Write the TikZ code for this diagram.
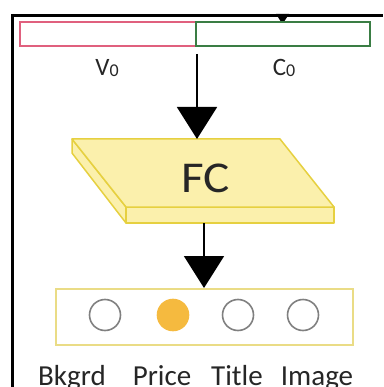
\documentclass[tikz,border=0pt]{standalone}
\usepackage{fontspec}
\setmainfont{Carlito}
\usetikzlibrary{arrows.meta}
\definecolor{pinkb}{HTML}{E0607E}
\definecolor{greenb}{HTML}{3A7D44}
\definecolor{fcfill}{HTML}{FBF0AC}
\definecolor{fcline}{HTML}{E6D040}
\definecolor{boxline}{HTML}{EADC86}
\definecolor{pricefill}{HTML}{F5BA3F}
\definecolor{circline}{HTML}{808080}
\definecolor{txt}{HTML}{262626}
\tikzset{
  barbox/.style={draw, line width=1.8pt, minimum height=24pt, inner sep=0pt, anchor=north west},
  arr/.style={line width=1.8pt, -{Triangle[width=40pt,length=32pt]}},
  slab/.style={draw=fcline, fill=fcfill, line width=1.5pt, line join=round},
  radio/.style={circle, draw=circline, line width=1.6pt, minimum size=31pt, inner sep=0pt},
  lab/.style={font=\fontsize{29}{31}\selectfont, text=txt, anchor=base, inner sep=0pt},
  barlab/.style={font=\fontsize{25}{27}\selectfont, text=txt, inner sep=0pt}
}
\begin{document}
\begin{tikzpicture}[x=1pt,y=-1pt]
\useasboundingbox (0,0) rectangle (383,387);
% frame
\draw[line width=3pt] (11,15.5) -- (383,15.5);
\draw[line width=3pt] (12.5,14) -- (12.5,387);
\fill (276,14) -- (289,14) -- (284.5,21) -- (280.5,21) -- cycle;
% bar
\node[barbox, draw=pinkb, minimum width=176pt] (vbar) at (19,21) {};
\node[barbox, draw=greenb, minimum width=174pt] (cbar) at (195,21) {};
\node[barlab] (vlab) at (107,68) {V\raisebox{-1.5pt}{\fontsize{18}{18}\selectfont 0}};
\node[barlab] (clab) at (284,68) {C\raisebox{-1.5pt}{\fontsize{18}{18}\selectfont 0}};
% FC slab
\path[slab] (72,139) -- (72,153) -- (126,223) -- (126,207) -- cycle;
\path[slab] (126,207) rectangle (334,223);
\path[slab] (72,139) -- (280,139) -- (334,207) -- (126,207) -- cycle;
\node[font=\fontsize{44}{48}\selectfont, text=txt, inner sep=0pt] (fc) at (206,178) {\scalebox{1.12}[1]{FC}};
\coordinate (fctop) at (197,139);
\coordinate (fcbot) at (204,223);
% output box
\node[draw=boxline, line width=1.5pt, minimum width=297pt, minimum height=56pt, inner sep=0pt, anchor=north west] (outbox) at (55,288) {};
\node[radio] (r1) at (105,315) {};
\node[radio, fill=pricefill, draw=pricefill] (r2) at (173,315) {};
\node[radio] (r3) at (238,315) {};
\node[radio] (r4) at (303,315) {};
\node[lab] (l1) at (72,385) {Bkgrd};
\node[lab] (l2) at (162,385) {Price};
\node[lab] (l3) at (237,385) {Title};
\node[lab] (l4) at (317,385) {Image};
% arrows
\draw[arr] ([yshift=-7pt]fctop |- vbar.south) -- (fctop);
\draw[arr] (fcbot) -- (fcbot |- outbox.north);
\end{tikzpicture}
\end{document}
